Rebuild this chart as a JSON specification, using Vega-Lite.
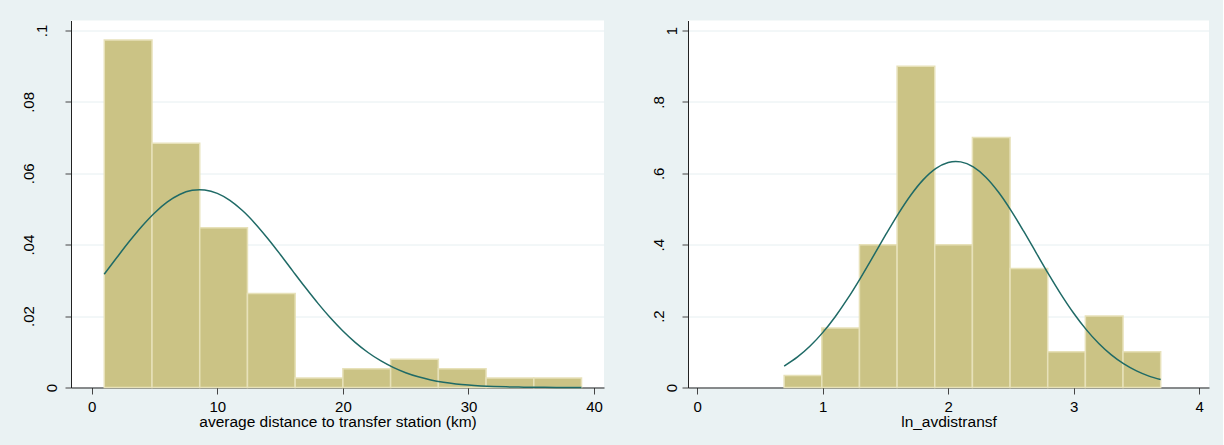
{
  "$schema": "https://vega.github.io/schema/vega-lite/v6.json",
  "background": "#eaf2f3",
  "padding": {"left": 21, "top": 20.5, "right": 14, "bottom": 15},
  "bounds": "flush",
  "spacing": 84,
  "config": {
    "view": {"fill": "white", "stroke": null},
    "font": "Liberation Sans",
    "axis": {
      "labelFont": "Liberation Sans", "labelFontSize": 15, "labelColor": "#000000",
      "titleFont": "Liberation Sans", "titleFontSize": 15.5, "titleColor": "#000000", "titleFontWeight": "normal",
      "domainColor": "#222222", "domainWidth": 1, "tickColor": "#444444", "tickWidth": 1,
      "gridColor": "#e6eff1", "gridWidth": 1, "labelOverlap": false, "labelFlush": false
    },
    "axisX": {"grid": false, "tickSize": 6.5, "labelPadding": 5, "titlePadding": 0},
    "axisY": {"grid": true, "tickSize": 6, "labelAngle": 270, "labelAlign": "center", "labelBaseline": "alphabetic", "title": null}
  },
  "datasets": {
    "leftBars": [
      {"x": 1.0, "x_end": 4.8, "y": 0.097368},
      {"x": 4.8, "x_end": 8.6, "y": 0.068421},
      {"x": 8.6, "x_end": 12.4, "y": 0.044737},
      {"x": 12.4, "x_end": 16.2, "y": 0.026316},
      {"x": 16.2, "x_end": 20.0, "y": 0.002632},
      {"x": 20.0, "x_end": 23.8, "y": 0.005263},
      {"x": 23.8, "x_end": 27.6, "y": 0.007895},
      {"x": 27.6, "x_end": 31.4, "y": 0.005263},
      {"x": 31.4, "x_end": 35.2, "y": 0.002632},
      {"x": 35.2, "x_end": 39.0, "y": 0.002632}
    ],
    "leftCurve": [
      {"x": 1, "y": 0.03174}, {"x": 2, "y": 0.0364}, {"x": 3, "y": 0.04095}, {"x": 4, "y": 0.04518},
      {"x": 5, "y": 0.0489}, {"x": 6, "y": 0.05191}, {"x": 7, "y": 0.05406}, {"x": 8, "y": 0.05522},
      {"x": 8.6, "y": 0.05541}, {"x": 9, "y": 0.05532}, {"x": 10, "y": 0.05437}, {"x": 11, "y": 0.05241},
      {"x": 12, "y": 0.04956}, {"x": 13, "y": 0.04597}, {"x": 14, "y": 0.04182}, {"x": 15, "y": 0.03733},
      {"x": 16, "y": 0.03267}, {"x": 17, "y": 0.02806}, {"x": 18, "y": 0.02363}, {"x": 19, "y": 0.01952},
      {"x": 20, "y": 0.01582}, {"x": 21, "y": 0.01258}, {"x": 22, "y": 0.0098}, {"x": 23, "y": 0.0075},
      {"x": 24, "y": 0.00563}, {"x": 25, "y": 0.00414}, {"x": 26, "y": 0.00299}, {"x": 27, "y": 0.00212},
      {"x": 28, "y": 0.00147}, {"x": 29, "y": 0.001}, {"x": 30, "y": 0.00067}, {"x": 31, "y": 0.00044},
      {"x": 32, "y": 0.00028}, {"x": 33, "y": 0.00018}, {"x": 34, "y": 0.00011}, {"x": 35, "y": 0.00007},
      {"x": 36, "y": 0.00004}, {"x": 37, "y": 0.00002}, {"x": 38, "y": 0.00001}, {"x": 39, "y": 0.00001}
    ],
    "rightBars": [
      {"x": 0.693, "x_end": 0.993, "y": 0.033333},
      {"x": 0.993, "x_end": 1.293, "y": 0.166667},
      {"x": 1.293, "x_end": 1.593, "y": 0.4},
      {"x": 1.593, "x_end": 1.893, "y": 0.9},
      {"x": 1.893, "x_end": 2.193, "y": 0.4},
      {"x": 2.193, "x_end": 2.493, "y": 0.7},
      {"x": 2.493, "x_end": 2.793, "y": 0.333333},
      {"x": 2.793, "x_end": 3.093, "y": 0.1},
      {"x": 3.093, "x_end": 3.393, "y": 0.2},
      {"x": 3.393, "x_end": 3.693, "y": 0.1}
    ],
    "rightCurve": [
      {"x": 0.693, "y": 0.06015}, {"x": 0.8, "y": 0.0857}, {"x": 0.9, "y": 0.11625}, {"x": 1.0, "y": 0.15374},
      {"x": 1.1, "y": 0.19832}, {"x": 1.2, "y": 0.24942}, {"x": 1.3, "y": 0.3059}, {"x": 1.4, "y": 0.3658},
      {"x": 1.5, "y": 0.42658}, {"x": 1.6, "y": 0.48507}, {"x": 1.7, "y": 0.53787}, {"x": 1.8, "y": 0.58156},
      {"x": 1.9, "y": 0.61316}, {"x": 2.0, "y": 0.6304}, {"x": 2.06, "y": 0.63326}, {"x": 2.1, "y": 0.63199},
      {"x": 2.2, "y": 0.61782}, {"x": 2.3, "y": 0.58893}, {"x": 2.4, "y": 0.54744}, {"x": 2.5, "y": 0.4962},
      {"x": 2.6, "y": 0.43857}, {"x": 2.7, "y": 0.37799}, {"x": 2.8, "y": 0.31768}, {"x": 2.9, "y": 0.26034},
      {"x": 3.0, "y": 0.20806}, {"x": 3.1, "y": 0.16211}, {"x": 3.2, "y": 0.12317}, {"x": 3.3, "y": 0.09127},
      {"x": 3.4, "y": 0.06595}, {"x": 3.5, "y": 0.04646}, {"x": 3.6, "y": 0.03193}, {"x": 3.693, "y": 0.02238}
    ]
  },
  "hconcat": [
    {
      "width": 533,
      "height": 367,
      "encoding": {
        "x": {"field": "x", "type": "quantitative",
              "scale": {"domain": [-1.65, 40.79], "nice": false, "zero": false},
              "axis": {"values": [0, 10, 20, 30, 40], "title": "average distance to transfer station (km)"}},
        "y": {"field": "y", "type": "quantitative",
              "scale": {"domain": [0, 0.1028], "nice": false, "zero": false},
              "axis": {"values": [0, 0.02, 0.04, 0.06, 0.08, 0.1],
                       "labelExpr": "datum.value > 0 && datum.value < 1 ? substring(format(datum.value, '~g'), 1) : format(datum.value, '~g')",
                       "labelPadding": {"condition": [{"test": "datum.value == 0", "value": 8.3}, {"test": "datum.value == 0.1", "value": 19}], "value": 32}}}
      },
      "layer": [
        {"data": {"name": "leftBars"},
         "mark": {"type": "bar", "fill": "#cbc385", "stroke": "#e7e1b9", "strokeWidth": 1.5},
         "encoding": {"x2": {"field": "x_end"}, "y2": {"datum": 0}}},
        {"data": {"name": "leftCurve"},
         "mark": {"type": "line", "color": "#1f6a66", "strokeWidth": 1.5, "interpolate": "monotone"}}
      ]
    },
    {
      "width": 521,
      "height": 367,
      "encoding": {
        "x": {"field": "x", "type": "quantitative",
              "scale": {"domain": [-0.073, 4.078], "nice": false, "zero": false},
              "axis": {"values": [0, 1, 2, 3, 4], "title": "ln_avdistransf"}},
        "y": {"field": "y", "type": "quantitative",
              "scale": {"domain": [0, 1.028], "nice": false, "zero": false},
              "axis": {"values": [0, 0.2, 0.4, 0.6, 0.8, 1],
                       "labelExpr": "datum.value > 0 && datum.value < 1 ? substring(format(datum.value, '~g'), 1) : format(datum.value, '~g')",
                       "labelPadding": {"condition": {"test": "datum.value == 0 || datum.value == 1", "value": 6}, "value": 18.5}}}
      },
      "layer": [
        {"data": {"name": "rightBars"},
         "mark": {"type": "bar", "fill": "#cbc385", "stroke": "#e7e1b9", "strokeWidth": 1.5},
         "encoding": {"x2": {"field": "x_end"}, "y2": {"datum": 0}}},
        {"data": {"name": "rightCurve"},
         "mark": {"type": "line", "color": "#1f6a66", "strokeWidth": 1.5, "interpolate": "monotone"}}
      ]
    }
  ]
}
